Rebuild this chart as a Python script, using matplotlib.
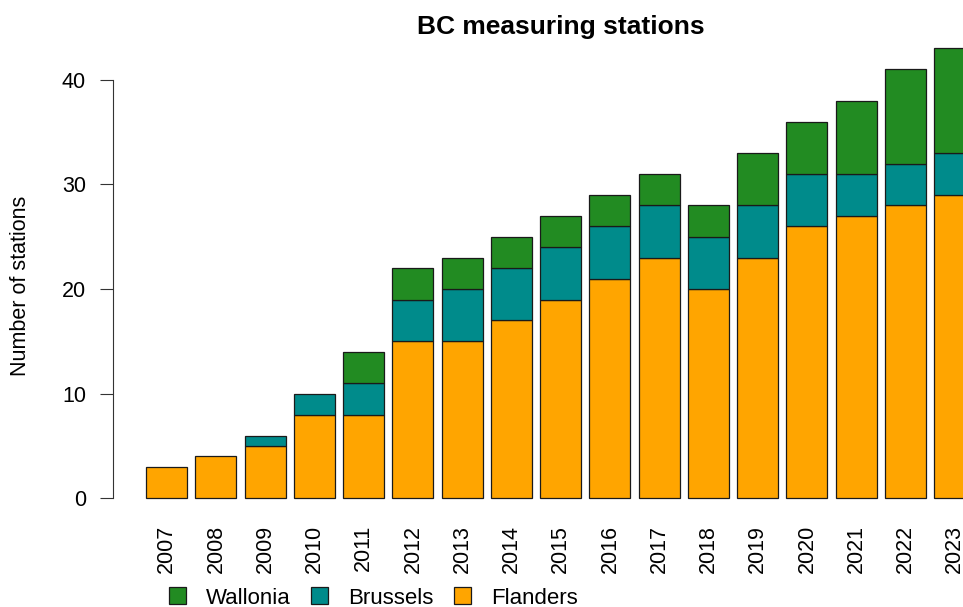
import matplotlib
matplotlib.use("Agg")
import matplotlib.pyplot as plt
import numpy as np
from matplotlib.patches import Patch

years = ["2007", "2008", "2009", "2010", "2011", "2012", "2013", "2014", "2015",
         "2016", "2017", "2018", "2019", "2020", "2021", "2022", "2023"]
flanders = [3, 4, 5, 8, 8, 15, 15, 17, 19, 21, 23, 20, 23, 26, 27, 28, 29]
brussels = [0, 0, 1, 2, 3, 4, 5, 5, 5, 5, 5, 5, 5, 5, 4, 4, 4]
wallonia = [0, 0, 0, 0, 3, 3, 3, 3, 3, 3, 3, 3, 5, 5, 7, 9, 10]

col_fl = "#FFA500"
col_br = "#008B8B"
col_wa = "#228B22"

plt.rcParams['font.family'] = ['Liberation Sans', 'DejaVu Sans']

W, H = 963, 607
fig = plt.figure(figsize=(W / 100, H / 100), dpi=100)

ppu_x = 49.25 / 1.2
left_px = 113
x0, x1 = -0.608, 21.208
bottom_px, top_px = 516.3, 30.5
ax = fig.add_axes([left_px / W, 1 - bottom_px / H,
                   (x1 - x0) * ppu_x / W, (bottom_px - top_px) / H])
ax.set_xlim(x0, x1)
ax.set_ylim(-1.72, 44.72)

n = len(years)
centers = 0.7 + 1.2 * np.arange(n)
fl = np.array(flanders)
br = np.array(brussels)
wa = np.array(wallonia)
kw = dict(width=1.0, edgecolor="#1a1a1a", linewidth=0.9)
ax.bar(centers, fl, color=col_fl, **kw)
mask = br > 0
ax.bar(centers[mask], br[mask], bottom=fl[mask], color=col_br, **kw)
mask = wa > 0
ax.bar(centers[mask], wa[mask], bottom=(fl + br)[mask], color=col_wa, **kw)

for s in ["top", "right", "bottom"]:
    ax.spines[s].set_visible(False)
ax.spines["left"].set_bounds(0, 40)
ax.spines["left"].set_color("#333333")
ax.set_yticks([0, 10, 20, 30, 40])
ax.tick_params(axis="y", length=9.4, pad=10, labelsize=15.5, color="#333333")
ax.set_xticks(centers)
ax.set_xticklabels(years, rotation=90, fontsize=15.5)
ax.tick_params(axis="x", length=0, pad=6)

fig.text(20 / W, 1 - 286 / H, "Number of stations", rotation=90,
         ha="center", va="center", fontsize=15.5)
fig.text(561 / W, 1 - 27 / H, "BC measuring stations", ha="center", va="center",
         fontsize=19, fontweight="bold")

handles = [Patch(facecolor=col_wa, edgecolor="#1a1a1a", linewidth=0.9),
           Patch(facecolor=col_br, edgecolor="#1a1a1a", linewidth=0.9),
           Patch(facecolor=col_fl, edgecolor="#1a1a1a", linewidth=0.9)]
fig.legend(handles, ["Wallonia", "Brussels", "Flanders"], loc="center left",
           bbox_to_anchor=(169 / W, 1 - 598 / H), ncol=3, frameon=False,
           fontsize=16, handlelength=0.78, handleheight=0.78, handletextpad=0.9,
           columnspacing=0.9, borderpad=0, borderaxespad=0)

fig.savefig("out.png", dpi=100)
